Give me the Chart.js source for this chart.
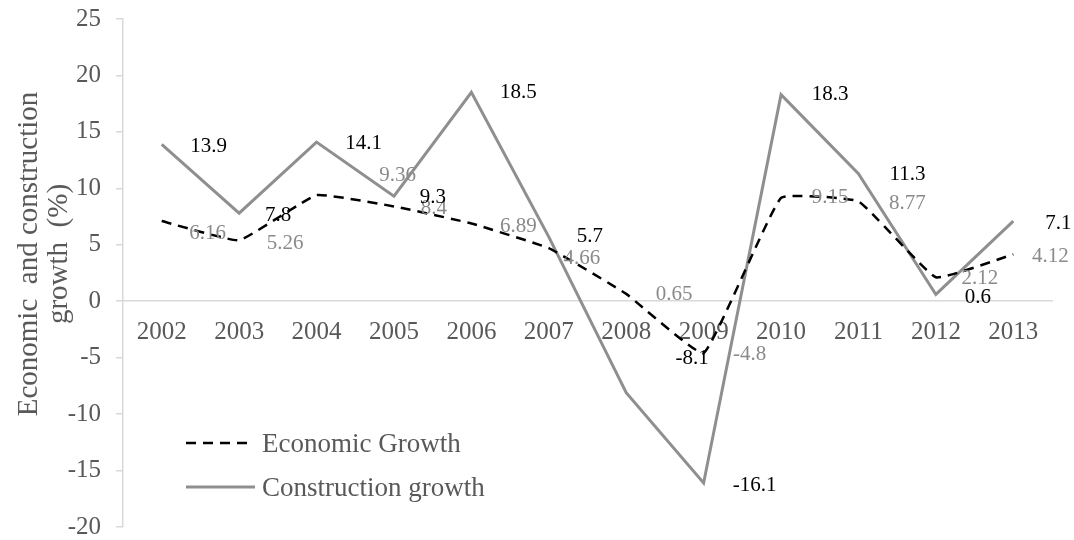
<!DOCTYPE html>
<html>
<head>
<meta charset="utf-8">
<title>Economic and construction growth</title>
<script src="https://cdn.jsdelivr.net/npm/chart.js@4.4.1/dist/chart.umd.min.js"></script>
<style>
  html, body { margin: 0; padding: 0; background: #fff; }
  #wrap { width: 1074px; height: 540px; position: relative; }
</style>
</head>
<body>
<div id="wrap"><canvas id="growthChart"></canvas></div>
<script>
// data
const years = ["2002", "2003", "2004", "2005", "2006", "2007", "2008", "2009", "2010", "2011", "2012", "2013"];
const economicGrowth = [7.1, 5.4, 9.4, 8.4, 6.89, 4.7, 0.65, -4.6, 9.15, 8.85, 2.12, 4.15];
const economicLabels = ["6.16", "5.26", "9.36", "8.4", "6.89", "4.66", "0.65", "-4.8", "9.15", "8.77", "2.12", "4.12"];
const constructionGrowth = [13.9, 7.8, 14.1, 9.3, 18.5, 5.7, -8.1, -16.1, 18.3, 11.3, 0.6, 7.1];
const constructionLabels = ["13.9", "7.8", "14.1", "9.3", "18.5", "5.7", "-8.1", "-16.1", "18.3", "11.3", "0.6", "7.1"];
const yMin = -20, yMax = 25, yStep = 5;
const yTitle = ["Economic  and construction", "growth  (%)"];

// where each value label sits, relative to its point (px)
const economicLabelShift = [[46, 12], [46, 3], [81, -20], [40, 2], [47, 3], [33, 10], [48, 1], [46, 1], [49, 0], [49, 2], [44, 1], [37, 2]];
const constructionLabelShift = [[47, 2], [39, 2], [47, 1], [39, 1], [47, 0], [41, 0], [66, -34], [51, 3], [49, 0], [49, 1], [42, 3], [45, 2]];

const FONT = '"Liberation Serif", "Times New Roman", serif';
const AXIS_GREY = "#d9d9d9";
const TEXT_GREY = "#595959";

const extras = {
  id: "extras",
  afterDatasetsDraw(chart) {
    const ctx = chart.ctx;
    const xs = chart.scales.x, ys = chart.scales.y;
    ctx.save();
    ctx.textAlign = "center";
    ctx.textBaseline = "middle";
    ctx.font = "21px " + FONT;

    // value labels
    ctx.fillStyle = "#8a8a8a";
    economicGrowth.forEach((v, i) => {
      const [dx, dy] = economicLabelShift[i];
      ctx.fillText(economicLabels[i], xs.getPixelForValue(i) + dx, ys.getPixelForValue(v) + dy);
    });
    ctx.fillStyle = "#000";
    constructionGrowth.forEach((v, i) => {
      const [dx, dy] = constructionLabelShift[i];
      ctx.fillText(constructionLabels[i], xs.getPixelForValue(i) + dx, ys.getPixelForValue(v) + dy);
    });

    // legend, lower left inside the plot
    const area = chart.chartArea;
    const lx = area.left + 63, ly1 = area.bottom - 84, ly2 = area.bottom - 40;
    ctx.lineWidth = 2.5;
    ctx.strokeStyle = "#000";
    ctx.setLineDash([10, 7]);
    ctx.beginPath(); ctx.moveTo(lx, ly1); ctx.lineTo(lx + 66, ly1); ctx.stroke();
    ctx.setLineDash([]);
    ctx.lineWidth = 3;
    ctx.strokeStyle = "#8f8f8f";
    ctx.beginPath(); ctx.moveTo(lx, ly2); ctx.lineTo(lx + 69, ly2); ctx.stroke();
    ctx.font = "27px " + FONT;
    ctx.fillStyle = TEXT_GREY;
    ctx.textAlign = "left";
    ctx.fillText(chart.data.datasets[0].label, lx + 76, ly1 + 2);
    ctx.fillText(chart.data.datasets[1].label, lx + 76, ly2 + 2);

    // y axis title, two rotated lines
    ctx.font = "29px " + FONT;
    ctx.textAlign = "center";
    yTitle.forEach((line, k) => {
      ctx.save();
      ctx.translate(29 + k * 30, 254);
      ctx.rotate(-Math.PI / 2);
      ctx.fillText(line, 0, 0);
      ctx.restore();
    });
    ctx.restore();
  }
};

new Chart(document.getElementById("growthChart"), {
  type: "line",
  data: {
    labels: years,
    datasets: [
      {
        label: "Economic Growth",
        data: economicGrowth,
        borderColor: "#000",
        borderWidth: 2.5,
        borderDash: [10, 7],
        pointRadius: 0,
        tension: 0.1,
        fill: false
      },
      {
        label: "Construction growth",
        data: constructionGrowth,
        borderColor: "#8f8f8f",
        borderWidth: 3,
        pointRadius: 0,
        tension: 0,
        fill: false
      }
    ]
  },
  options: {
    responsive: true,
    maintainAspectRatio: false,
    animation: false,
    layout: { padding: { left: 0, right: 22, top: 19, bottom: 13 } },
    plugins: {
      legend: { display: false },
      tooltip: { enabled: false }
    },
    scales: {
      x: {
        type: "category",
        position: { y: 0 },
        offset: true,
        afterFit: (s) => { s.height = 0; },
        border: { display: true, color: AXIS_GREY, width: 1.5 },
        grid: { display: true, drawOnChartArea: false, drawTicks: false },
        ticks: {
          color: TEXT_GREY,
          font: { family: FONT, size: 25, lineHeight: 1.2 },
          padding: 16,
          maxRotation: 0,
          autoSkip: false
        }
      },
      y: {
        min: yMin,
        max: yMax,
        afterFit: (s) => { s.width = 123; s.paddingTop = 0; s.paddingBottom = 0; },
        border: { display: true, color: AXIS_GREY, width: 1.5 },
        grid: { display: true, drawOnChartArea: false, drawTicks: true, tickLength: 7, color: AXIS_GREY, lineWidth: 1.5 },
        ticks: {
          stepSize: yStep,
          color: TEXT_GREY,
          font: { family: FONT, size: 25, lineHeight: 1 },
          padding: 15
        }
      }
    }
  },
  plugins: [extras]
});
</script>
</body>
</html>
